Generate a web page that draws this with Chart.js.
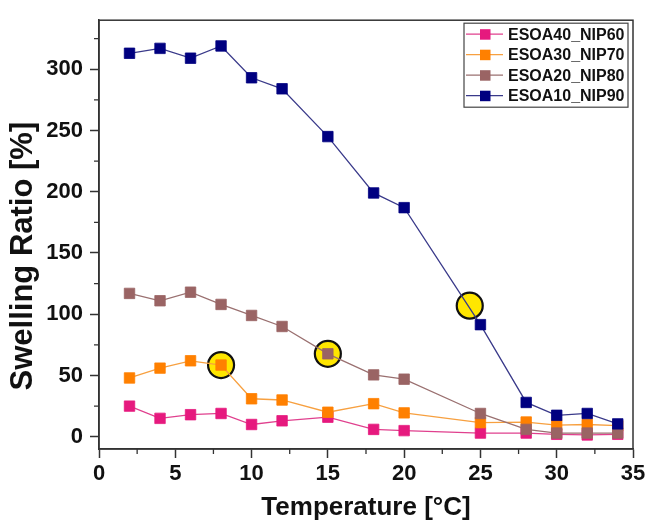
<!DOCTYPE html>
<html>
<head>
<meta charset="utf-8">
<script src="https://cdn.jsdelivr.net/npm/chart.js@4"></script>
<style>
  html, body { margin: 0; padding: 0; background: #fff; }
  #chart { display: block; }
</style>
</head>
<body>
<canvas id="chart" width="649" height="528"></canvas>
<script>
// temperatures (°C)
const temps = [2, 4, 6, 8, 10, 12, 15, 18, 20, 25, 28, 30, 32, 34];

// swelling ratio (%) per sample
const esoa40 = [25, 15, 18, 19, 10, 13, 16, 6, 5, 3, 3, 2, 1.5, 2];
const esoa30 = [48, 56, 62, 58.5, 31, 30, 20, 27, 19.5, 11.5, 12, 9.5, 10, 9];
const esoa20 = [117, 111, 118, 108, 99, 90, 67.7, 50.5, 47, 19, 6, 3, 3, 3];
const esoa10 = [313, 317, 309, 319, 293, 284, 245, 199, 187, 91.5, 28, 17.5, 19, 10.5];

// highlighted points (yellow circles)
const hlTemps = [8, 15, 24.3];
const hlRatio = [58.5, 67.7, 107];

const xTicks = [0, 5, 10, 15, 20, 25, 30, 35];
const yTicks = [0, 50, 100, 150, 200, 250, 300];
const xMinor = [2.5, 7.5, 12.5, 17.5, 22.5, 27.5, 32.5];
const yMinor = [25, 75, 125, 175, 225, 275, 325];

const seriesNames = ['ESOA40_NIP60', 'ESOA30_NIP70', 'ESOA20_NIP80', 'ESOA10_NIP90'];
const seriesColors = ['#e6197e', '#ff8000', '#9a6464', '#000080'];
const lineColors = ['#e0408e', '#f7a040', '#9a7070', '#3a3a8a'];

const FONT = '"Liberation Sans", Arial, sans-serif';
const AXIS = '#333333';

function pts(xs, ys) {
    return xs.map((x, i) => ({ x: x, y: ys[i] }));
}

const allSeries = [esoa40, esoa30, esoa20, esoa10];
const datasets = allSeries.map((vals, i) => ({
    label: seriesNames[i],
    data: pts(temps, vals),
    borderColor: lineColors[i],
    backgroundColor: seriesColors[i],
    borderWidth: 1.3,
    pointStyle: 'rect',
    pointRadius: 7.4,
    pointBorderWidth: 0.8,
    pointBorderColor: seriesColors[i],
    pointBackgroundColor: seriesColors[i],
    order: 4 - i,
    tension: 0
}));

datasets.push({
    label: 'highlight',
    data: pts(hlTemps, hlRatio),
    showLine: false,
    pointStyle: 'circle',
    pointRadius: 13,
    pointBorderWidth: 2.2,
    pointBorderColor: '#111',
    pointBackgroundColor: '#ffe600',
    order: 10
});

// frame, minor ticks and boxed legend
const framePlugin = {
    id: 'frame',
    afterDraw(chart) {
        const ctx = chart.ctx;
        const a = chart.chartArea;
        const xs = chart.scales.x, ys = chart.scales.y;
        ctx.save();
        ctx.strokeStyle = AXIS;
        ctx.lineWidth = 1.5;
        ctx.strokeRect(a.left, a.top, a.right - a.left, a.bottom - a.top);

        ctx.lineWidth = 1.3;
        ctx.beginPath();
        xMinor.forEach(v => {
            const px = xs.getPixelForValue(v);
            ctx.moveTo(px, a.bottom);
            ctx.lineTo(px, a.bottom + 5);
        });
        yMinor.forEach(v => {
            const py = ys.getPixelForValue(v);
            ctx.moveTo(a.left, py);
            ctx.lineTo(a.left - 5, py);
        });
        ctx.stroke();

        // legend box
        const L = a.right - 169, T = a.top + 3, W = 164, H = 84;
        ctx.fillStyle = '#fff';
        ctx.fillRect(L, T, W, H);
        ctx.strokeStyle = '#444';
        ctx.lineWidth = 1.2;
        ctx.strokeRect(L, T, W, H);
        ctx.font = 'bold 16px ' + FONT;
        ctx.textBaseline = 'middle';
        ctx.textAlign = 'left';
        seriesNames.forEach((name, i) => {
            const y = T + 11 + i * 20.5;
            ctx.strokeStyle = lineColors[i];
            ctx.lineWidth = 1.3;
            ctx.beginPath();
            ctx.moveTo(L + 2, y);
            ctx.lineTo(L + 39, y);
            ctx.stroke();
            ctx.fillStyle = seriesColors[i];
            ctx.fillRect(L + 16, y - 5, 10.5, 10.5);
            ctx.fillStyle = '#111';
            ctx.fillText(name, L + 44, y + 1);
        });
        ctx.restore();
    }
};

new Chart(document.getElementById('chart').getContext('2d'), {
    type: 'line',
    data: { datasets: datasets },
    options: {
        responsive: false,
        animation: false,
        layout: { padding: { top: 15, right: 16, left: 0, bottom: 0 } },
        plugins: {
            legend: { display: false },
            tooltip: { enabled: false }
        },
        scales: {
            x: {
                type: 'linear',
                min: 0,
                max: 35,
                afterBuildTicks: s => { s.ticks = xTicks.map(v => ({ value: v })); },
                afterFit: s => { s.height = 79; },
                grid: { drawOnChartArea: false, tickLength: 9, tickWidth: 1.5, tickColor: AXIS },
                border: { color: AXIS, width: 1.5 },
                ticks: {
                    color: '#111',
                    padding: 3,
                    maxRotation: 0,
                    font: { family: FONT, size: 22, weight: 'bold' }
                },
                title: {
                    display: true,
                    text: 'Temperature [°C]',
                    color: '#111',
                    padding: { top: 0, bottom: 5 },
                    font: { family: FONT, size: 26, weight: 'bold' }
                }
            },
            y: {
                type: 'linear',
                min: -10,
                max: 340,
                afterBuildTicks: s => { s.ticks = yTicks.map(v => ({ value: v })); },
                afterFit: s => { s.width = 99; },
                grid: { drawOnChartArea: false, tickLength: 9, tickWidth: 1.5, tickColor: AXIS },
                border: { color: AXIS, width: 1.5 },
                ticks: {
                    color: '#111',
                    padding: 7,
                    font: { family: FONT, size: 22, weight: 'bold' }
                },
                title: {
                    display: true,
                    // trailing spaces nudge the rotated title down a little
                    text: 'Swelling Ratio [%]\u00a0\u00a0\u00a0\u00a0\u00a0',
                    color: '#111',
                    padding: { top: 5, bottom: 0 },
                    font: { family: FONT, size: 31, weight: 'bold' }
                }
            }
        }
    },
    plugins: [framePlugin]
});
</script>
</body>
</html>
